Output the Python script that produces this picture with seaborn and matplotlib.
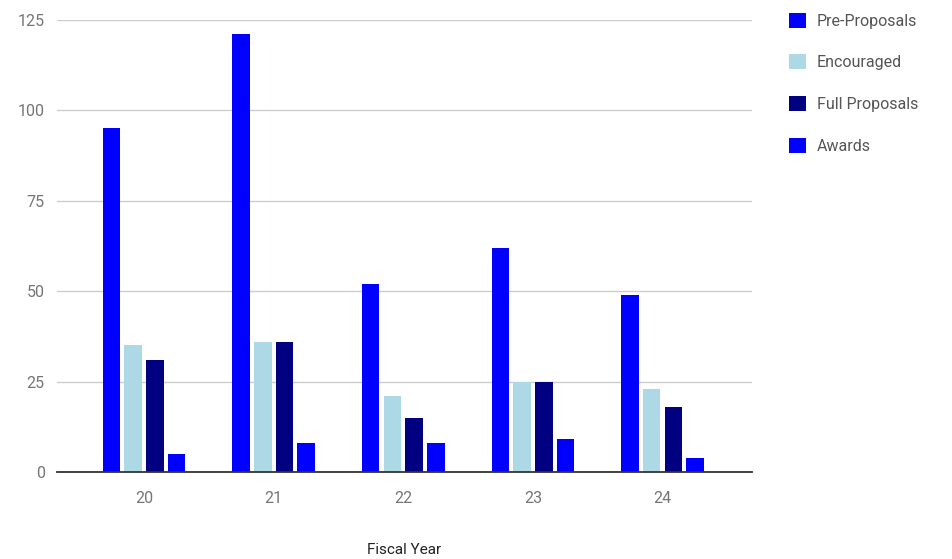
import matplotlib
matplotlib.use("Agg")
from matplotlib import pyplot as plt
from matplotlib.patches import Patch
import pandas as pd
import seaborn as sns

# values
years = ["20", "21", "22", "23", "24"]
pre_proposals = [95, 121, 52, 62, 49]
encouraged = [35, 36, 21, 25, 23]
full_proposals = [31, 36, 15, 25, 18]
awards = [5, 8, 8, 9, 4]

series = ["Pre-Proposals", "Encouraged", "Full Proposals", "Awards"]
colors = {"Pre-Proposals": "#0000ff", "Encouraged": "#add8e6",
          "Full Proposals": "#000080", "Awards": "#0000ff"}

rows = []
for name, vals in zip(series, [pre_proposals, encouraged, full_proposals, awards]):
    for yr, v in zip(years, vals):
        rows.append({"Fiscal Year": yr, "Series": name, "Count": v})
df = pd.DataFrame(rows)

sns.set_style("white")
plt.rcParams["font.family"] = ["Roboto", "DejaVu Sans"]

fig = plt.figure(figsize=(9.53, 5.59), dpi=100)
ax = fig.add_axes([0.06, 0.1556, 0.729, 0.8086])

sns.barplot(data=df, x="Fiscal Year", y="Count", hue="Series", hue_order=series,
            palette=colors, width=0.67, gap=0.19, saturation=1, ax=ax,
            linewidth=0, legend=False)

ax.set_ylim(0, 125)
ax.set_xlim(-0.67, 4.69)
ax.set_yticks([0, 25, 50, 75, 100, 125])
ax.yaxis.grid(True, color="#cccccc", linewidth=1)
ax.set_axisbelow(True)
for s in ["top", "right", "left"]:
    ax.spines[s].set_visible(False)
ax.spines["bottom"].set_color("#333333")
ax.spines["bottom"].set_linewidth(1.3)
ax.spines["bottom"].set_zorder(5)

ax.tick_params(axis="y", length=0, pad=9, labelsize=11.5, labelcolor="#757575")
ax.tick_params(axis="x", length=0, pad=14, labelsize=11.5, labelcolor="#757575")
ax.set_ylabel("")
ax.set_xlabel("Fiscal Year", fontsize=11, color="#222222", labelpad=26)

handles = [Patch(facecolor=colors[s], edgecolor="none") for s in series]
fig.legend(handles, series, loc="upper left", bbox_to_anchor=(0.813, 1.003),
           frameon=False, fontsize=11.5, labelcolor="#555555",
           handlelength=1.05, handleheight=1.05, handletextpad=0.7,
           labelspacing=1.62)

fig.savefig("out.png", dpi=100)
